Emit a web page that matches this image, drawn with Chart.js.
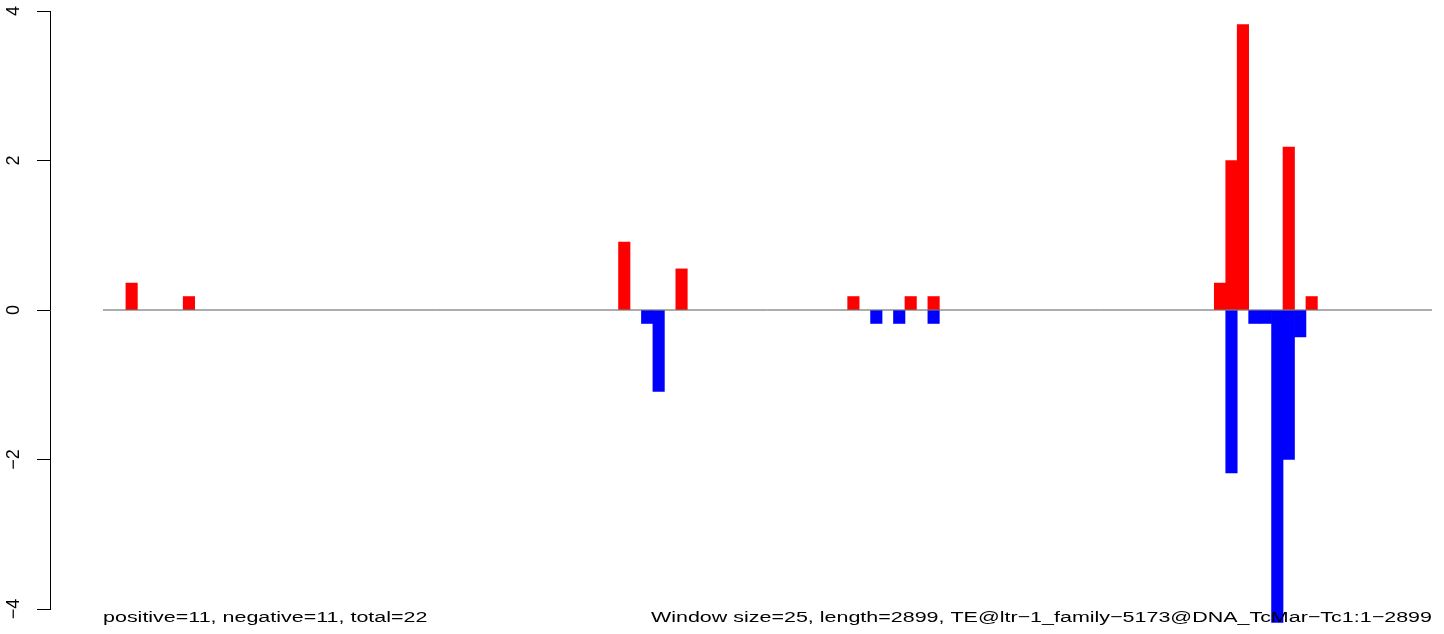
<!DOCTYPE html>
<html>
<head>
<meta charset="utf-8">
<script src="https://cdn.jsdelivr.net/npm/chart.js@4.4.1/dist/chart.umd.min.js"></script>
<style>
  html, body { margin: 0; padding: 0; background: #fff; }
  canvas { display: block; }
</style>
</head>
<body>
<canvas id="teChart" width="1444" height="634"></canvas>
<script>
// 25bp windows along the TE, 2899bp -> 116 windows (index 0..115)
const windowCount = 116;
const posWindows = [2, 7, 45, 50, 65, 70, 72, 97, 98, 99, 103, 105];
const posValues  = [0.36, 0.18, 0.91, 0.55, 0.18, 0.18, 0.18, 0.36, 2.0, 3.82, 2.18, 0.18];
const negWindows = [47, 48, 67, 69, 72, 98, 100, 101, 102, 103, 104];
const negValues  = [-0.18, -1.09, -0.18, -0.18, -0.18, -2.18, -0.18, -0.18, -4.18, -2.0, -0.36];
const yTicks = [-4, -2, 0, 2, 4];
const leftNote = 'positive=11, negative=11, total=22';
const rightNote = 'Window size=25, length=2899, TE@ltr\u22121_family\u22125173@DNA_TcMar\u2212Tc1:1\u22122899';

const toPoints = (idx, vals) => idx.map((w, i) => ({ x: w, y: vals[i] }));

// the two footnotes under the plot (R draws them a bit stretched)
const notesPlugin = {
  id: 'notes',
  afterDraw(chart) {
    const ctx = chart.ctx;
    const xs = chart.scales.x;
    const stretch = 1.385;
    ctx.save();
    ctx.font = '15.5px "Liberation Sans", Arial, sans-serif';
    ctx.fillStyle = '#000';
    ctx.textBaseline = 'alphabetic';

    ctx.save();
    ctx.translate(xs.getPixelForValue(-0.5), 622);
    ctx.scale(stretch, 1);
    ctx.textAlign = 'left';
    ctx.fillText(leftNote, 0, 0);
    ctx.restore();

    ctx.save();
    ctx.translate(xs.getPixelForValue(windowCount - 0.5), 622);
    ctx.scale(stretch, 1);
    ctx.textAlign = 'right';
    ctx.fillText(rightNote, 0, 0);
    ctx.restore();

    ctx.restore();
  }
};

new Chart(document.getElementById('teChart'), {
  data: {
    datasets: [
      {
        type: 'line',
        data: [{ x: -0.5, y: 0 }, { x: windowCount - 0.5, y: 0 }],
        borderColor: '#5a5a5a',
        borderWidth: 1,
        pointRadius: 0,
        clip: false
      },
      {
        type: 'bar',
        data: toPoints(posWindows, posValues),
        backgroundColor: '#ff0000',
        grouped: false,
        barPercentage: 1,
        categoryPercentage: 1,
        clip: false
      },
      {
        type: 'bar',
        data: toPoints(negWindows, negValues),
        backgroundColor: '#0000ff',
        grouped: false,
        barPercentage: 1,
        categoryPercentage: 1,
        clip: false
      }
    ]
  },
  options: {
    responsive: false,
    animation: false,
    devicePixelRatio: 1,
    layout: { padding: { top: 11, bottom: 25, left: 0, right: 0 } },
    plugins: {
      legend: { display: false },
      tooltip: { enabled: false }
    },
    scales: {
      x: {
        type: 'linear',
        offset: false,
        min: -5.126,
        max: 116.55,
        display: false
      },
      y: {
        min: -4,
        max: 4,
        afterBuildTicks: (scale) => { scale.ticks = yTicks.map(v => ({ value: v })); },
        afterFit: (scale) => {
          scale.width = 50;
          scale.paddingTop = 0;
          scale.paddingBottom = 0;
        },
        grid: { drawOnChartArea: false, drawTicks: true, tickLength: 13, color: '#000', lineWidth: 1 },
        border: { display: true, color: '#000', width: 1 },
        ticks: {
          minRotation: 90,
          maxRotation: 90,
          crossAlign: 'center',
          padding: 13,
          color: '#000',
          font: { family: '"Liberation Sans", Arial, sans-serif', size: 18 },
          callback: (v) => String(v).replace('-', '\u2212')
        }
      }
    }
  },
  plugins: [notesPlugin]
});
</script>
</body>
</html>
